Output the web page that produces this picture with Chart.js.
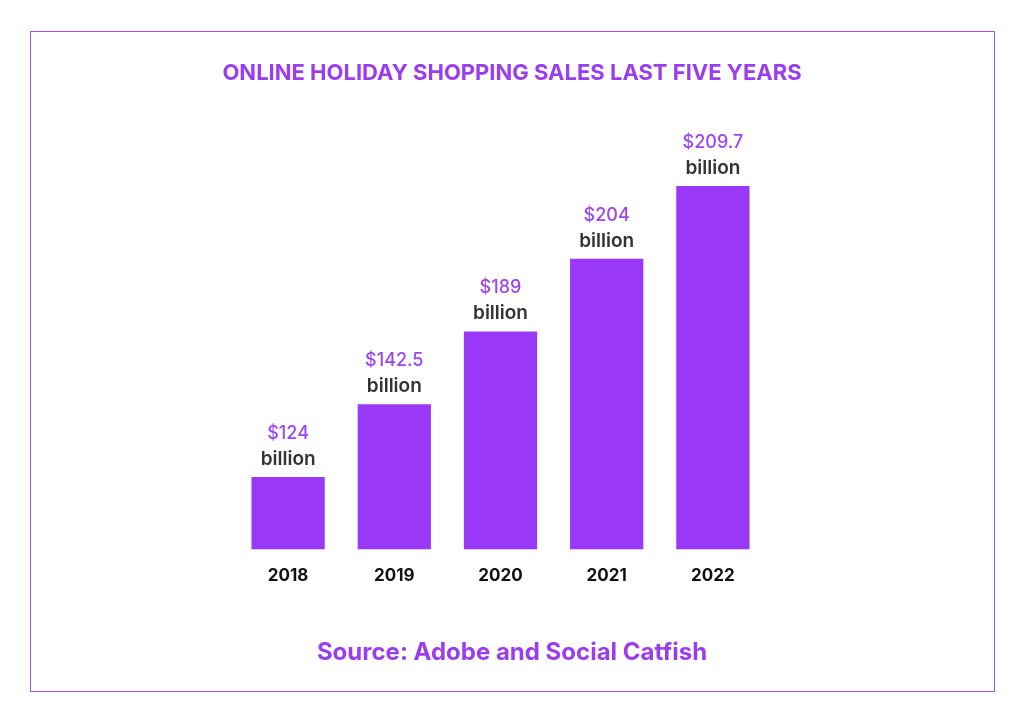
<!DOCTYPE html>
<html>
<head>
<meta charset="utf-8">
<script src="https://cdn.jsdelivr.net/npm/chart.js@4"></script>
<style>
  html, body { margin: 0; padding: 0; background: #fff; }
  #wrap { position: relative; width: 1024px; height: 724px; }
</style>
</head>
<body>
<div id="wrap"><canvas id="chart" width="1024" height="724"></canvas></div>
<script>
// years on the x axis
const years = ["2018", "2019", "2020", "2021", "2022"];
// sales in billions of dollars (shown in labels)
const sales = [124, 142.5, 189, 204, 209.7];
const salesText = ["$124", "$142.5", "$189", "$204", "$209.7"];
// bar heights as drawn in the infographic (equal steps, not to scale)
const barLevels = [1, 2, 3, 4, 5];

const purple = '#9A38F8';
const textPurple = '#9B3DEE';

// frame, title, source and the value labels
const decor = {
    id: 'decor',
    beforeDraw(chart) {
        const ctx = chart.ctx;
        ctx.save();
        ctx.fillStyle = '#fff';
        ctx.fillRect(0, 0, chart.width, chart.height);
        ctx.strokeStyle = '#A550EC';
        ctx.lineWidth = 1;
        ctx.strokeRect(30.5, 31.5, 964, 660);
        ctx.restore();
    },
    afterDatasetsDraw(chart) {
        const ctx = chart.ctx;
        const meta = chart.getDatasetMeta(0);
        ctx.save();
        ctx.textAlign = 'center';
        ctx.textBaseline = 'alphabetic';

        ctx.fillStyle = textPurple;
        ctx.font = 'bold 22px Inter, sans-serif';
        ctx.fillText('ONLINE HOLIDAY SHOPPING SALES LAST FIVE YEARS', 512, 80);

        ctx.font = 'bold 24px Inter, sans-serif';
        ctx.fillText('Source: Adobe and Social Catfish', 512, 660);

        meta.data.forEach((bar, i) => {
            ctx.fillStyle = '#9D45F0';
            ctx.font = '500 18px Inter, sans-serif';
            ctx.fillText(salesText[i], bar.x, bar.y - 38);
            ctx.fillStyle = '#333';
            ctx.font = '600 19px Inter, sans-serif';
            ctx.fillText('billion', bar.x, bar.y - 12);
        });
        ctx.restore();
    }
};

new Chart(document.getElementById('chart'), {
    type: 'bar',
    data: {
        labels: years,
        datasets: [{
            label: 'Online holiday sales',
            data: barLevels,
            backgroundColor: purple,
            borderWidth: 0,
            barPercentage: 0.69,
            categoryPercentage: 1
        }]
    },
    options: {
        responsive: false,
        animation: false,
        layout: {
            padding: { left: 235, right: 258, top: 106, bottom: 122 }
        },
        scales: {
            x: {
                grid: { display: false, drawTicks: false },
                border: { display: false },
                ticks: {
                    color: '#111',
                    padding: 16,
                    font: { family: 'Inter, sans-serif', size: 17, weight: 'bold' }
                }
            },
            y: {
                display: false,
                min: 0,
                max: 6.1
            }
        },
        plugins: {
            legend: { display: false },
            tooltip: { enabled: false }
        }
    },
    plugins: [decor]
});
</script>
</body>
</html>
